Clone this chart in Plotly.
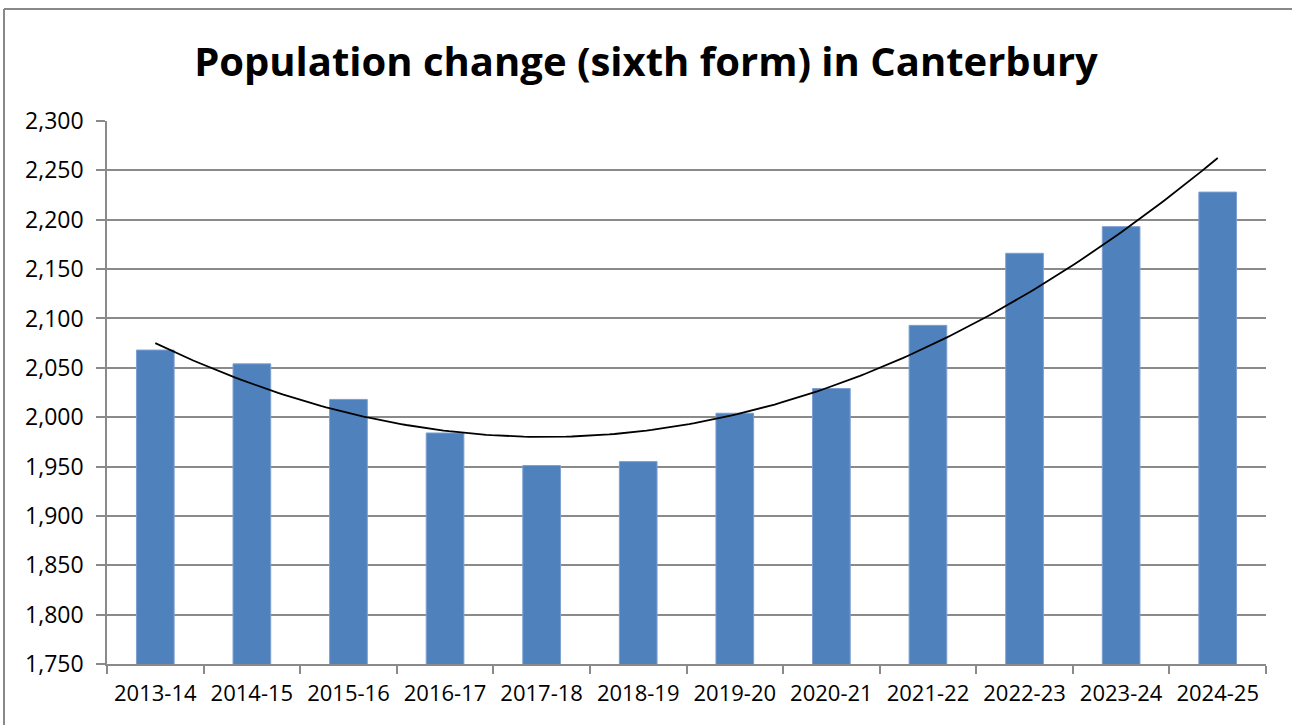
import numpy as np
import plotly.graph_objects as go

categories = ["2013-14", "2014-15", "2015-16", "2016-17", "2017-18", "2018-19",
              "2019-20", "2020-21", "2021-22", "2022-23", "2023-24", "2024-25"]
population = [2068, 2054, 2018, 1984, 1951, 1955, 2004, 2029, 2093, 2166, 2193, 2228]
y_ticks = list(range(1750, 2301, 50))

x_idx = np.arange(len(categories))
coef = np.polyfit(x_idx, population, 2)
x_fine = np.linspace(0, len(categories) - 1, 200)
trend = np.polyval(coef, x_fine)

fig = go.Figure()
fig.add_trace(go.Bar(
    x=x_idx, y=population, width=0.39,
    marker=dict(color="#4F81BD", line=dict(color="#7D9FD0", width=1)),
    showlegend=False, hoverinfo="y",
))
fig.add_trace(go.Scatter(
    x=x_fine, y=trend, mode="lines",
    line=dict(color="#000000", width=1.8),
    showlegend=False, hoverinfo="skip",
))

grid = "#8A8A8A"
fig.update_layout(
    width=1292, height=725,
    margin=dict(l=107, r=26, t=121, b=61),
    paper_bgcolor="white", plot_bgcolor="white",
    font=dict(family="Open Sans", color="#000000"),
    title=dict(text="<b>Population change (sixth form) in Canterbury</b>",
               font=dict(family="Open Sans", size=40, color="#000000"),
               x=0.5, xanchor="center", xref="container",
               y=1 - 62 / 725, yref="container", yanchor="middle"),
    xaxis=dict(range=[-0.5, len(categories) - 0.5],
               tickmode="array", tickvals=list(x_idx), ticktext=categories,
               ticks="", showgrid=False, zeroline=False,
               showline=True, linecolor=grid, linewidth=1.5,
               tickfont=dict(size=22), ticklabelstandoff=9,
               minor=dict(tick0=-0.5, dtick=1, ticks="outside", ticklen=8,
                          tickcolor=grid, tickwidth=1.5, showgrid=False)),
    yaxis=dict(range=[1750, 2300], tickmode="array", tickvals=y_ticks,
               tickformat=",d", ticks="outside", ticklen=9, tickcolor=grid,
               tickwidth=1.5,
               showgrid=True, gridcolor=grid, gridwidth=1.5, zeroline=False,
               showline=True, linecolor=grid, linewidth=1.5,
               tickfont=dict(size=23), ticklabelstandoff=8),
    shapes=[
        dict(type="line", xref="paper", yref="paper",
             x0=(4 - 107) / 1159, x1=(1292 - 107) / 1159,
             y0=(664 - 9) / 543, y1=(664 - 9) / 543,
             line=dict(color="#898989", width=2)),
        dict(type="line", xref="paper", yref="paper",
             x0=(4 - 107) / 1159, x1=(4 - 107) / 1159,
             y0=(664 - 9) / 543, y1=(664 - 725) / 543,
             line=dict(color="#898989", width=2)),
    ],
)

fig.write_html("out.html", config={"displayModeBar": False},
               post_script="document.body.style.margin='0';")
